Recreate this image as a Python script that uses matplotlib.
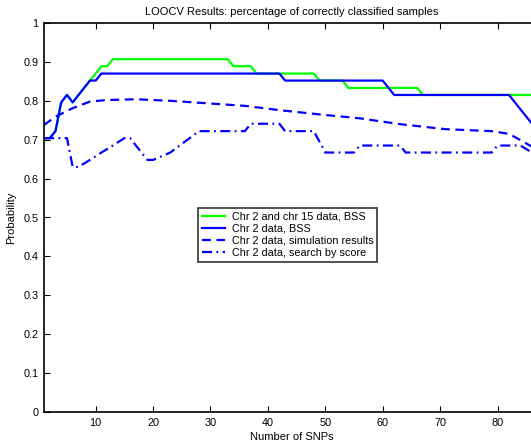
import matplotlib
matplotlib.use("Agg")
import matplotlib.pyplot as plt

plt.rcParams['font.family'] = ['Liberation Sans', 'DejaVu Sans']

# step curves given at their break points (x, value)
green_x = [1, 2, 3, 4, 5, 6, 9, 10, 11, 12, 13, 33, 34, 37, 38, 48, 49, 53, 54, 66, 67, 86]
green_y = [0.704, 0.704, 0.722, 0.796, 0.815, 0.796, 0.852, 0.870, 0.889, 0.889, 0.907, 0.907,
           0.889, 0.889, 0.870, 0.870, 0.852, 0.852, 0.833, 0.833, 0.815, 0.815]

blue_x = [1, 2, 3, 4, 5, 6, 9, 10, 11, 42, 43, 60, 62, 82, 86]
blue_y = [0.704, 0.704, 0.722, 0.796, 0.815, 0.796, 0.852, 0.852, 0.870, 0.870, 0.852, 0.852,
          0.815, 0.815, 0.741]

sim_x = [1, 3, 6, 9, 12, 17, 23, 30, 36, 42, 49, 56, 63, 71, 79, 82, 84, 86]
sim_y = [0.738, 0.759, 0.781, 0.798, 0.802, 0.804, 0.800, 0.793, 0.787, 0.776, 0.765, 0.755,
         0.740, 0.727, 0.722, 0.715, 0.699, 0.682]

score_x = [1, 5, 6, 7, 9, 11, 13, 15, 16, 19, 20, 23, 28, 36, 37, 42, 43, 48, 50, 55, 56, 63,
           64, 79, 80, 84, 86]
score_y = [0.704, 0.704, 0.630, 0.630, 0.648, 0.667, 0.685, 0.704, 0.704, 0.648, 0.648, 0.667,
           0.722, 0.722, 0.741, 0.741, 0.722, 0.722, 0.667, 0.667, 0.685, 0.685, 0.667, 0.667,
           0.685, 0.685, 0.667]

labels = ["Chr 2 and chr 15 data, BSS", "Chr 2 data, BSS",
          "Chr 2 data, simulation results", "Chr 2 data, search by score"]

fig = plt.figure(figsize=(5.31, 4.48), dpi=100)
ax = fig.add_axes([44 / 531, 36 / 448, 496 / 531, 389 / 448])

lw = 1.6
ax.plot(green_x, green_y, color=(0, 1, 0), lw=lw, label=labels[0])
ax.plot(blue_x, blue_y, color=(0, 0, 1), lw=lw, label=labels[1])
ax.plot(sim_x, sim_y, color=(0, 0, 1), lw=lw, dashes=(4, 2.5), label=labels[2])
ax.plot(score_x, score_y, color=(0, 0, 1), lw=lw, dashes=(4.5, 2, 0.8, 2), label=labels[3])

ax.set_xlim(1, 87.4)
ax.set_ylim(0, 1)
ax.set_xticks(range(10, 90, 10))
ax.set_yticks([i / 10 for i in range(11)])
ax.set_yticklabels(["0", "0.1", "0.2", "0.3", "0.4", "0.5", "0.6", "0.7", "0.8", "0.9", "1"])
ax.tick_params(direction='in', top=True, right=True, length=4, width=0.8, labelsize=7.8,
               pad=4)
for s in ax.spines.values():
    s.set_linewidth(1.2)

ax.set_title("LOOCV Results: percentage of correctly classified samples", fontsize=8, pad=6)
ax.set_xlabel("Number of SNPs", fontsize=8, labelpad=3)
ax.set_ylabel("Probability", fontsize=8, labelpad=5)

lgd = ax.legend(loc='upper left', bbox_to_anchor=(0.31, 0.525), fontsize=7.8, frameon=True,
                fancybox=False, handlelength=2.2, handletextpad=0.6, borderpad=0.35,
                labelspacing=0.2, borderaxespad=0)
lgd.get_frame().set_edgecolor('black')
lgd.get_frame().set_linewidth(1.2)

fig.savefig("out.png", dpi=100)
